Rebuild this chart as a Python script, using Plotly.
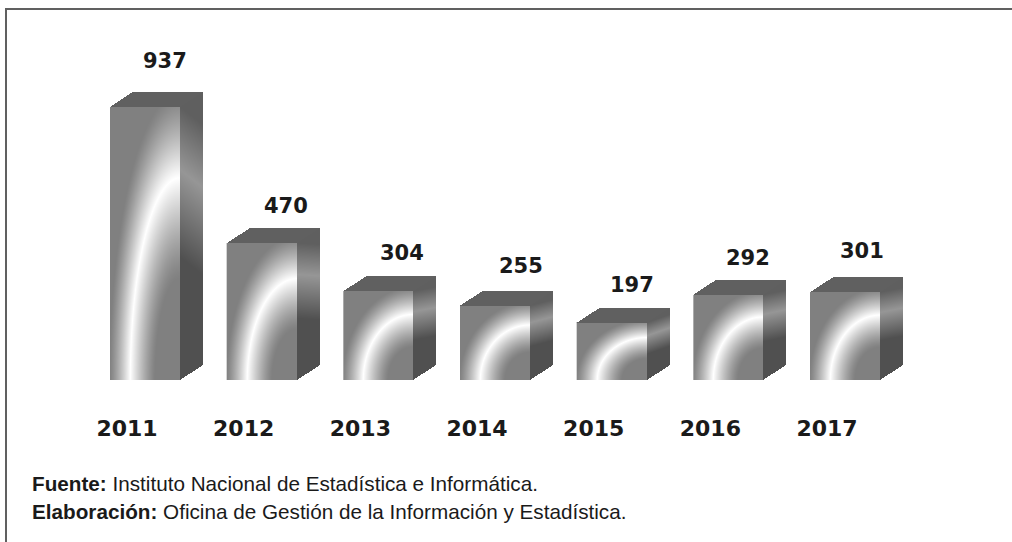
import numpy as np
import plotly.graph_objects as go

# Bar values
years = ['2011', '2012', '2013', '2014', '2015', '2016', '2017']
values = [937, 470, 304, 255, 197, 292, 301]

# Pixel offsets of the value labels from the bar top
label_dx = [20, 24, 24, 26, 20, 20, 17]
label_dy = [31, 22, 23, 25, 23, 22, 26]

W, H = 1012, 542
BASE_PX = 380            # pixel row of the value 0 line
X0_PX = 145              # pixel column of the first bar centre
STEP_PX = 116.67         # distance between bars
TICK_SHIFT_PX = 18       # year labels sit left of the bars
PX_PER_UNIT = 0.2915     # bar height scale
BAR_PX = 70              # front face width
DX_PX, DY_PX = 23, 15    # depth of the box


def front_shade(u, v):
    # white elliptical ring centred on the bottom right corner of the face
    r = np.sqrt(((1 - u) / 0.71) ** 2 + (v / 0.74) ** 2)
    d = np.where(r < 1, (1 - r) / 0.5, (r - 1) / 0.42)
    return 128 + 127 * np.clip(1 - d, 0, 1) ** 1.25


def side_shade(v):
    return np.interp(v, [0, 0.45, 0.77, 1.0, 1.2], [80, 80, 150, 95, 95])


def box_cells(i, value):
    # grey levels for the three faces of one box, in steps of one pixel
    h = value * PX_PER_UNIT
    px = np.arange(0, BAR_PX + DX_PX + 1, 1.0) + 0.5
    py = np.arange(0, h + DY_PX + 1, 1.0) + 0.5
    xx, yy = np.meshgrid(px, py)
    z = np.full(xx.shape, np.nan)

    front = (xx <= BAR_PX) & (yy <= h)
    z[front] = front_shade(xx[front] / BAR_PX, yy[front] / h)

    s = (xx - BAR_PX) / DX_PX
    side = (xx > BAR_PX) & (xx <= BAR_PX + DX_PX) & (yy >= s * DY_PX) & (yy <= h + s * DY_PX)
    z[side] = side_shade((yy[side] - s[side] * DY_PX) / h + 0.12 * s[side])

    t = (yy - h) / DY_PX
    top = (yy > h) & (yy <= h + DY_PX) & (xx >= t * DX_PX) & (xx <= BAR_PX + t * DX_PX)
    z[top] = 96

    x = i + (px - BAR_PX / 2) / STEP_PX
    y = py / PX_PER_UNIT
    return x, y, z


def paper_y(row):
    # pixel row of the page to paper coordinate of the plot area
    return (BASE_PX - row) / BASE_PX


fig = go.Figure()

for i, v in enumerate(values):
    x, y, z = box_cells(i, v)
    fig.add_trace(go.Heatmap(
        x=x, y=y, z=z,
        zmin=0, zmax=255,
        colorscale=[[0, '#000000'], [1, '#ffffff']],
        showscale=False,
        name=years[i],
        hoverinfo='skip'
    ))

annotations = []
for i, v in enumerate(values):
    annotations.append(dict(
        x=i, y=v, xref='x', yref='y',
        text=str(v), showarrow=False,
        xshift=label_dx[i], yshift=DY_PX + label_dy[i],
        yanchor='middle',
        font=dict(family='DejaVu Sans', size=21, color='#1a1a1a', weight='bold')
    ))

note_font = dict(family='Liberation Sans', size=20.7, color='#1a1a1a')
annotations.append(dict(
    x=30 / W, y=paper_y(483), xref='paper', yref='paper', xanchor='left', yanchor='middle',
    text='<b>Fuente:</b> Instituto Nacional de Estadística e Informática.',
    showarrow=False, font=note_font
))
annotations.append(dict(
    x=30 / W, y=paper_y(511), xref='paper', yref='paper', xanchor='left', yanchor='middle',
    text='<b>Elaboración:</b> Oficina de Gestión de la Información y Estadística.',
    showarrow=False, font=note_font
))

fig.update_layout(
    width=W, height=H,
    margin=dict(l=0, r=0, t=0, b=H - BASE_PX, autoexpand=False),
    paper_bgcolor='white', plot_bgcolor='white',
    showlegend=False,
    annotations=annotations,
    xaxis=dict(
        range=[-X0_PX / STEP_PX, (W - X0_PX) / STEP_PX],
        tickvals=[i - TICK_SHIFT_PX / STEP_PX for i in range(len(years))], ticktext=years,
        ticklabelstandoff=33, ticks='', showgrid=False, zeroline=False, showline=False,
        tickfont=dict(family='DejaVu Sans', size=22, color='#1a1a1a', weight='bold')
    ),
    yaxis=dict(range=[0, BASE_PX / PX_PER_UNIT], visible=False),
    shapes=[
        dict(type='line', xref='paper', yref='paper', x0=6 / W, x1=6 / W,
             y0=paper_y(9), y1=paper_y(H),
             line=dict(color='#606060', width=2)),
        dict(type='line', xref='paper', yref='paper', x0=5 / W, x1=1,
             y0=paper_y(9), y1=paper_y(9),
             line=dict(color='#606060', width=2)),
    ]
)

# the default page margin would push the figure off the window
fig.write_html("out.html", config={'displayModeBar': False},
               post_script="document.body.style.margin='0';")
